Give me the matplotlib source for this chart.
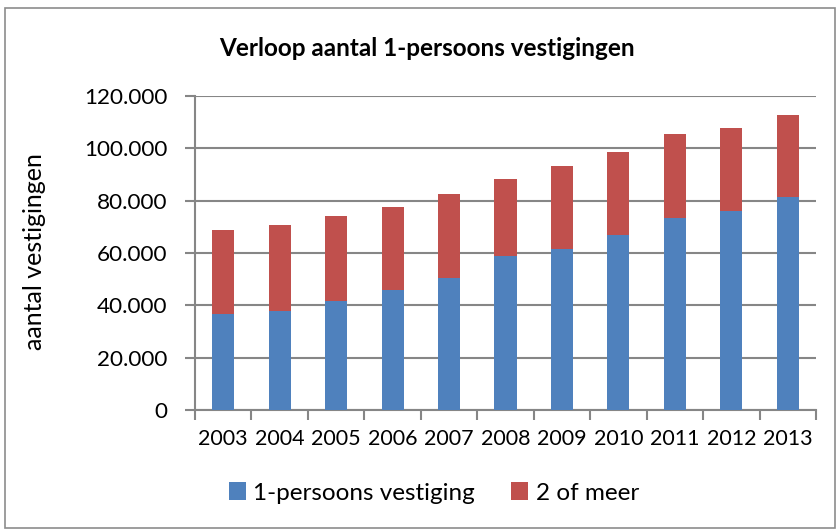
import matplotlib
matplotlib.use("Agg")
import matplotlib.pyplot as plt
from matplotlib.patches import Rectangle
from matplotlib.ticker import FuncFormatter
import numpy as np

years = ["2003", "2004", "2005", "2006", "2007", "2008", "2009", "2010", "2011", "2012", "2013"]
een_persoons = [36800, 37900, 41700, 46000, 50600, 59000, 61400, 66900, 73500, 76200, 81400]
totaal = [68900, 70700, 74000, 77700, 82600, 88200, 93300, 98600, 105400, 107700, 112600]
twee_of_meer = [t - e for t, e in zip(totaal, een_persoons)]
yticks = [0, 20000, 40000, 60000, 80000, 100000, 120000]

plt.rcParams['font.family'] = ['Lato', 'DejaVu Sans']

W, H = 840, 531
fig = plt.figure(figsize=(W / 100, H / 100), dpi=100)
fig.patch.set_facecolor("white")

# outer chart border
fig.patches.append(Rectangle((5 / W, 1 - 528 / H), 830 / W, 520 / H, transform=fig.transFigure,
                             fill=False, edgecolor="#8c8c8c", linewidth=1.2))

left, right, top, bottom = 195, 816, 96, 410
ax = fig.add_axes([left / W, 1 - bottom / H, (right - left) / W, (bottom - top) / H])

x = np.arange(len(years))
blue = "#4F81BD"
red = "#C0504D"
ax.bar(x, een_persoons, width=0.39, color=blue, label="1-persoons vestiging", zorder=3)
ax.bar(x, twee_of_meer, width=0.39, bottom=een_persoons, color=red, label="2 of meer", zorder=3)

ax.set_xlim(-0.5, len(years) - 0.5)
ax.set_ylim(0, 120000)
ax.set_yticks(yticks)
ax.yaxis.set_major_formatter(FuncFormatter(lambda v, p: "0" if v == 0 else f"{int(v):,}".replace(",", ".")))
ax.set_xticks(x)
ax.set_xticklabels(years, fontsize=15.5)
ax.tick_params(axis="y", labelsize=16.2, length=7, width=1.5, color="#868686", pad=13)
ax.tick_params(axis="x", length=0, pad=14)
# minor ticks at category boundaries
ax.set_xticks(np.arange(-0.5, len(years), 1), minor=True)
ax.tick_params(axis="x", which="minor", length=7, width=1.5, color="#868686")

ax.grid(axis="y", color="#868686", linewidth=1.5, zorder=0)
for s in ["top", "right"]:
    ax.spines[s].set_visible(False)
for s in ["left", "bottom"]:
    ax.spines[s].set_color("#868686")
    ax.spines[s].set_linewidth(1.5)

fig.text(35 / W, 1 - 252 / H, "aantal vestigingen", rotation=90, ha="center", va="center",
         fontsize=18)

fig.text(427 / W, 1 - 48 / H, "Verloop aantal 1-persoons vestigingen", ha="center", va="center",
         fontsize=17.5, fontweight="bold")

fig.legend(loc="center", bbox_to_anchor=(434 / W, 1 - 493 / H), ncol=2, frameon=False,
           fontsize=17.5, handlelength=0.7, handleheight=0.7, columnspacing=1.5, handletextpad=0.3)

fig.savefig("out.png", dpi=100)
